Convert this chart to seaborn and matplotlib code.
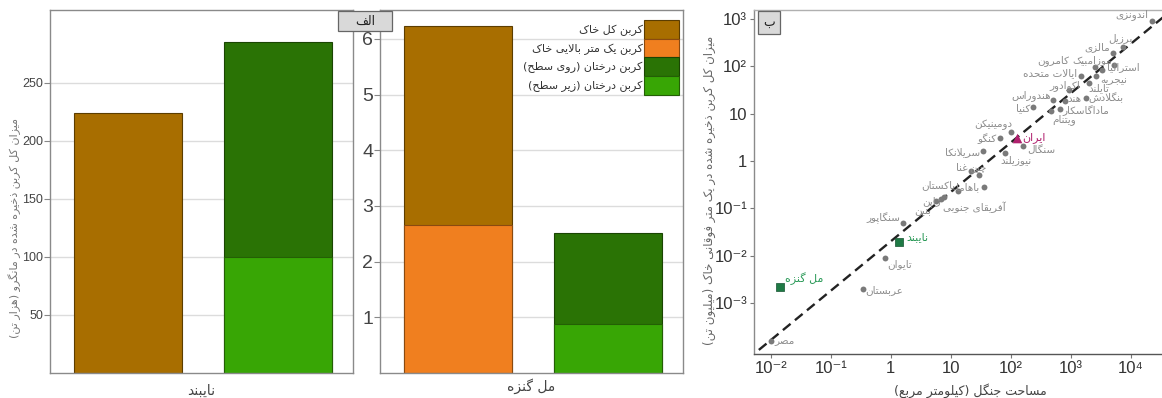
import numpy as np
import pandas as pd
import matplotlib
matplotlib.use("Agg")
import matplotlib.pyplot as plt
from matplotlib.patches import Patch, Rectangle
from matplotlib.ticker import FixedLocator, FuncFormatter, NullLocator
import seaborn as sns

sns.set_style("white")
plt.rcParams["font.family"] = ["DejaVu Sans"]
NUM_FONT = ["Liberation Sans", "DejaVu Sans"]

# ---------------------------------------------------------------------------
# Minimal Persian shaping: contextual presentation forms + right-to-left order
# ---------------------------------------------------------------------------
FORMS = {
    "\u0621": ("\uFE80",),
    "\u0622": ("\uFE81", "\uFE82"),
    "\u0623": ("\uFE83", "\uFE84"),
    "\u0624": ("\uFE85", "\uFE86"),
    "\u0625": ("\uFE87", "\uFE88"),
    "\u0626": ("\uFE89", "\uFE8A", "\uFE8B", "\uFE8C"),
    "\u0627": ("\uFE8D", "\uFE8E"),
    "\u0628": ("\uFE8F", "\uFE90", "\uFE91", "\uFE92"),
    "\u0629": ("\uFE93", "\uFE94"),
    "\u062A": ("\uFE95", "\uFE96", "\uFE97", "\uFE98"),
    "\u062B": ("\uFE99", "\uFE9A", "\uFE9B", "\uFE9C"),
    "\u062C": ("\uFE9D", "\uFE9E", "\uFE9F", "\uFEA0"),
    "\u062D": ("\uFEA1", "\uFEA2", "\uFEA3", "\uFEA4"),
    "\u062E": ("\uFEA5", "\uFEA6", "\uFEA7", "\uFEA8"),
    "\u062F": ("\uFEA9", "\uFEAA"),
    "\u0630": ("\uFEAB", "\uFEAC"),
    "\u0631": ("\uFEAD", "\uFEAE"),
    "\u0632": ("\uFEAF", "\uFEB0"),
    "\u0633": ("\uFEB1", "\uFEB2", "\uFEB3", "\uFEB4"),
    "\u0634": ("\uFEB5", "\uFEB6", "\uFEB7", "\uFEB8"),
    "\u0635": ("\uFEB9", "\uFEBA", "\uFEBB", "\uFEBC"),
    "\u0636": ("\uFEBD", "\uFEBE", "\uFEBF", "\uFEC0"),
    "\u0637": ("\uFEC1", "\uFEC2", "\uFEC3", "\uFEC4"),
    "\u0638": ("\uFEC5", "\uFEC6", "\uFEC7", "\uFEC8"),
    "\u0639": ("\uFEC9", "\uFECA", "\uFECB", "\uFECC"),
    "\u063A": ("\uFECD", "\uFECE", "\uFECF", "\uFED0"),
    "\u0641": ("\uFED1", "\uFED2", "\uFED3", "\uFED4"),
    "\u0642": ("\uFED5", "\uFED6", "\uFED7", "\uFED8"),
    "\u0643": ("\uFED9", "\uFEDA", "\uFEDB", "\uFEDC"),
    "\u0644": ("\uFEDD", "\uFEDE", "\uFEDF", "\uFEE0"),
    "\u0645": ("\uFEE1", "\uFEE2", "\uFEE3", "\uFEE4"),
    "\u0646": ("\uFEE5", "\uFEE6", "\uFEE7", "\uFEE8"),
    "\u0647": ("\uFEE9", "\uFEEA", "\uFEEB", "\uFEEC"),
    "\u0648": ("\uFEED", "\uFEEE"),
    "\u0649": ("\uFEEF", "\uFEF0"),
    "\u064A": ("\uFEF1", "\uFEF2", "\uFEF3", "\uFEF4"),
    "\u067E": ("\uFB56", "\uFB57", "\uFB58", "\uFB59"),
    "\u0686": ("\uFB7A", "\uFB7B", "\uFB7C", "\uFB7D"),
    "\u0698": ("\uFB8A", "\uFB8B"),
    "\u06A9": ("\uFB8E", "\uFB8F", "\uFB90", "\uFB91"),
    "\u06AF": ("\uFB92", "\uFB93", "\uFB94", "\uFB95"),
    "\u06CC": ("\uFBFC", "\uFBFD", "\uFBFE", "\uFBFF"),
}
LAM_ALEF = {
    "\u0627": ("\uFEFB", "\uFEFC"),
    "\u0622": ("\uFEF5", "\uFEF6"),
    "\u0623": ("\uFEF7", "\uFEF8"),
    "\u0625": ("\uFEF9", "\uFEFA"),
}


def fa(text):
    units, i = [], 0
    while i < len(text):
        c = text[i]
        if c == "\u0644" and i + 1 < len(text) and text[i + 1] in LAM_ALEF:
            units.append(("LA", text[i + 1]))
            i += 2
        else:
            units.append(("C", c))
            i += 1

    def joins_next(u):
        return u[0] == "C" and u[1] in FORMS and len(FORMS[u[1]]) == 4

    def joinable(u):
        return u[0] == "LA" or u[1] in FORMS

    out = []
    for k, u in enumerate(units):
        prev_j = k > 0 and joins_next(units[k - 1]) and joinable(u)
        next_j = k + 1 < len(units) and joins_next(u) and joinable(units[k + 1])
        kind, c = u
        if kind == "LA":
            iso, fin = LAM_ALEF[c]
            out.append(fin if prev_j else iso)
        elif c in FORMS:
            f = FORMS[c]
            if len(f) == 4:
                ch = f[3] if (prev_j and next_j) else f[1] if prev_j else f[2] if next_j else f[0]
            elif len(f) == 2:
                ch = f[1] if prev_j else f[0]
            else:
                ch = f[0]
            out.append(ch)
        else:
            out.append(c)
    return "".join(out)[::-1].translate(str.maketrans("()", ")("))


# ---------------------------------------------------------------------------
# Data
# ---------------------------------------------------------------------------
# Panel A: carbon stocks of the two mangrove sites
site_names = ["نایبند", "مل گنزه"]
soil_total = [224.0, 6.23]          # total soil carbon
soil_top_meter = [np.nan, 2.66]     # carbon of the top metre of soil
trees_above = [185.0, 1.63]         # above-ground tree carbon
trees_below = [100.0, 0.88]         # below-ground tree carbon

layer_labels = [
    "کربن کل خاک",
    "کربن یک متر بالایی خاک",
    "کربن درختان (روی سطح)",
    "کربن درختان (زیر سطح)",
]

# Panel B: forest area vs. carbon in the upper metre of soil
countries = [
    "اندونزی", "برزیل", "مالزی", "موزامبیک", "کامرون", "استرالیا", "نیجریه",
    "ایالات متحده", "تایلند", "اکوادور", "هندوراس", "بنگلادش", "هند",
    "ماداگاسکار", "ویتنام", "کنیا", "دومینیکن", "کنگو", "سنگال", "سریلانکا",
    "نیوزیلند", "غنا", "چین", "باهاما", "پاکستان", "ژاپن", "بنین",
    "آفریقای جنوبی", "سنگاپور", "تایوان", "عربستان", "مصر",
]
country_area = [
    22900, 7590, 5010, 5250, 2510, 3390, 2690,
    1510, 2000, 933, 501, 1780, 794,
    661, 468, 234, 100, 67.6, 158, 33.9,
    79.4, 21.4, 30.2, 35.5, 13.2, 7.6, 5.6,
    6.8, 1.62, 0.79, 0.34, 0.0102,
]
country_carbon = [
    891, 251, 191, 105, 95.5, 83.2, 63.1,
    63.1, 44.7, 31.6, 19.5, 21.4, 18.6,
    12.6, 11.5, 13.8, 4.17, 3.02, 2.09, 1.62,
    1.48, 0.62, 0.50, 0.275, 0.234, 0.174, 0.141,
    0.158, 0.048, 0.0087, 0.00195, 0.000158,
]
iran_name = "ایران"
iran_area = [126.0]
iran_carbon = [3.09]
study_names = ["نایبند", "مل گنزه"]
study_area = [1.38, 0.0141]
study_carbon = [0.019, 0.00214]

# fitted power-law relation drawn as the dashed line (log10 space)
FIT_INTERCEPT = -1.70
FIT_SLOPE = 1.043

# ---------------------------------------------------------------------------
# Styling
# ---------------------------------------------------------------------------
C_SOIL = "#A86E00"
C_TOP = "#F07F1F"
C_ABOVE = "#2A7305"
C_BELOW = "#38A605"
EDGE = {C_SOIL: "#5c3d00", C_TOP: "#8a4a10", C_ABOVE: "#1a4503", C_BELOW: "#245f05"}

W, H = 1162, 398
fig = plt.figure(figsize=(W / 100, H / 100), dpi=100)


def box(x0, y0, x1, y1):
    return [x0 / W, 1 - y1 / H, (x1 - x0) / W, (y1 - y0) / H]


ax1 = fig.add_axes(box(50, 10, 353, 373))
ax2 = fig.add_axes(box(380, 10, 683, 373))
ax3 = fig.add_axes(box(754, 10, 1163, 354))

groups = ["soil", "trees"]
rows = []
for i, s in enumerate(site_names):
    rows.append((s, "soil", C_SOIL, soil_total[i]))
    if not np.isnan(soil_top_meter[i]):
        rows.append((s, "soil", C_TOP, soil_top_meter[i]))
    rows.append((s, "trees", C_ABOVE, trees_above[i] + trees_below[i]))
    rows.append((s, "trees", C_BELOW, trees_below[i]))
bars = pd.DataFrame(rows, columns=["site", "group", "color", "height"])

for ax, site, ylim, yticks, tick_fs, lpad in [
    (ax1, site_names[0], (0, 312.6), [50, 100, 150, 200, 250], 9, 8),
    (ax2, site_names[1], (0, 6.52), [1, 2, 3, 4, 5, 6], 14, 4),
]:
    ax.set_axisbelow(True)
    for v in yticks:
        ax.axhline(v, color="#dcdcdc", lw=1.0, zorder=0)
    sub = bars[bars["site"] == site]
    for color in [C_SOIL, C_TOP, C_ABOVE, C_BELOW]:
        part = sub[sub["color"] == color]
        if part.empty:
            continue
        sns.barplot(data=part, x="group", y="height", order=groups, color=color,
                    width=0.72, saturation=1, edgecolor=EDGE[color], linewidth=0.8,
                    ax=ax, errorbar=None)
    ax.set_xlim(-0.52, 1.5)
    ax.set_ylim(*ylim)
    ax.set_yticks(yticks)
    ax.set_xticks([])
    ax.tick_params(axis="y", labelsize=tick_fs, labelcolor="#444444", colors="#888888",
                   length=4, width=0.8, direction="out", left=True, pad=1)
    plt.setp(ax.get_yticklabels(), family=NUM_FONT)
    ax.set_xlabel(fa(site), fontsize=10, color="#444444", labelpad=lpad)
    ax.set_ylabel("")
    for sp in ax.spines.values():
        sp.set_color("#8a8a8a")
        sp.set_linewidth(1.0)

ax1.set_ylabel(fa("میزان کل کربن ذخیره شده در مانگرو (هزار تن)"), fontsize=8,
               color="#777777", labelpad=2)
ax1.yaxis.set_label_coords(-0.095, 0.40)

handles = [Patch(facecolor=c, edgecolor=EDGE[c], linewidth=0.8)
           for c in [C_SOIL, C_TOP, C_ABOVE, C_BELOW]]
ax2.legend(handles, [fa(t) for t in layer_labels], loc="upper right",
           bbox_to_anchor=(0.988, 0.972), markerfirst=False, frameon=False,
           fontsize=8, labelspacing=0.0, handlelength=3.2, handleheight=2.2,
           handletextpad=0.1, borderpad=0, borderaxespad=0, labelcolor="#333333")

# panel tags
fig.patches.append(Rectangle((338 / W, 1 - 31 / H), 54 / W, 20 / H, transform=fig.transFigure,
                             facecolor="#d9d9d9", edgecolor="#666666", lw=0.9, zorder=10))
fig.text(365 / W, 1 - 21 / H, fa("الف"), ha="center", va="center", fontsize=9,
         color="#222222", zorder=11)

# ---------------------------------------------------------------------------
# Panel B scatter
# ---------------------------------------------------------------------------
ax3.set_xscale("log")
ax3.set_yscale("log")
ax3.set_xlim(10 ** -2.28, 10 ** 4.54)
ax3.set_ylim(10 ** -4.08, 10 ** 3.19)

xs = np.logspace(-2.4, 4.7, 50)
ax3.plot(xs, 10 ** FIT_INTERCEPT * xs ** FIT_SLOPE, color="#222222", lw=1.7,
         dashes=(4.2, 2.4), zorder=1)

sns.scatterplot(x=country_area, y=country_carbon, ax=ax3, color="#7a7a7a",
                s=18, linewidth=0, zorder=3)
sns.scatterplot(x=iran_area, y=iran_carbon, ax=ax3, color="#b0206e", marker="^",
                s=48, linewidth=0, zorder=4)
sns.scatterplot(x=study_area, y=study_carbon, ax=ax3, color="#1f7a45", marker="s",
                s=30, edgecolor="#145230", linewidth=0.5, zorder=4)

# label offsets (points) and alignment for each country label
label_pos = {
    "اندونزی": (-3, 5, "right"), "برزیل": (-2, 7, "center"), "مالزی": (-2, 4, "right"),
    "موزامبیک": (-1, 4, "right"), "کامرون": (-18, 5, "right"), "استرالیا": (3, 2, "left"),
    "نیجریه": (3, -3, "left"), "ایالات متحده": (-3, 2, "right"), "تایلند": (0, -4, "left"),
    "اکوادور": (-3, 3, "center"), "هندوراس": (-1, 3, "right"), "بنگلادش": (2, 0, "left"),
    "هند": (2, 1, "left"), "ماداگاسکار": (2, -1, "left"), "ویتنام": (1, -6, "left"),
    "کنیا": (-2, -1, "right"), "دومینیکن": (1, 5, "right"), "کنگو": (-3, 0, "right"),
    "سنگال": (3, -3, "left"), "سریلانکا": (-2, -1, "right"), "نیوزیلند": (-3, -5, "left"),
    "غنا": (-2, 2, "right"), "چین": (-1, 5, "center"), "باهاما": (-3, 0, "right"),
    "پاکستان": (-2, 4, "right"), "ژاپن": (-2, -3, "right"), "بنین": (-3, -7, "right"),
    "آفریقای جنوبی": (2, -6, "left"), "سنگاپور": (-2, 4, "right"), "تایوان": (2, -4, "left"),
    "عربستان": (2, -1, "left"), "مصر": (2, 0, "left"),
}
for name, xa, ya in zip(countries, country_area, country_carbon):
    dx, dy, ha = label_pos[name]
    ax3.annotate(fa(name), (xa, ya), xytext=(dx, dy), textcoords="offset points",
                 ha=ha, va="center", fontsize=7.5, color="#8c8c8c", zorder=5)
ax3.annotate(fa(iran_name), (iran_area[0], iran_carbon[0]), xytext=(4, 0),
             textcoords="offset points", ha="left", va="center", fontsize=8,
             color="#b0206e", zorder=5)
for name, xa, ya, off in zip(study_names, study_area, study_carbon, [(5, 4), (4, 6)]):
    ax3.annotate(fa(name), (xa, ya), xytext=off, textcoords="offset points",
                 ha="left", va="center", fontsize=8, color="#2b9a58", zorder=5)

SUPERSCRIPT = str.maketrans("-0123456789", "⁻⁰¹²³⁴⁵⁶⁷⁸⁹")


def log_fmt(v, _):
    e = int(round(np.log10(v)))
    if e == 0:
        return "1"
    if e == 1:
        return "10"
    return "10" + str(e).translate(SUPERSCRIPT)


ax3.xaxis.set_major_locator(FixedLocator([10.0 ** e for e in range(-2, 5)]))
ax3.yaxis.set_major_locator(FixedLocator([10.0 ** e for e in range(-3, 4)]))
ax3.xaxis.set_minor_locator(NullLocator())
ax3.yaxis.set_minor_locator(NullLocator())
ax3.xaxis.set_major_formatter(FuncFormatter(log_fmt))
ax3.yaxis.set_major_formatter(FuncFormatter(log_fmt))
ax3.tick_params(axis="both", labelsize=12, labelcolor="#333333", colors="#777777",
                length=3, width=0.8, direction="out", left=True, bottom=True, pad=2)
plt.setp(ax3.get_xticklabels() + ax3.get_yticklabels(), family=NUM_FONT)
ax3.set_xlabel(fa("مساحت جنگل (کیلومتر مربع)"), fontsize=9, color="#444444", labelpad=1)
ax3.xaxis.set_label_coords(0.53, -0.085)
ax3.set_ylabel(fa("میزان کل کربن ذخیره شده در یک متر فوقانی خاک (میلیون تن)"),
               fontsize=8.5, color="#666666", labelpad=4)
ax3.yaxis.set_label_coords(-0.092, 0.477)
ax3.spines["right"].set_visible(False)
ax3.spines["top"].set_color("#b0b0b0")
ax3.spines["left"].set_color("#8a8a8a")
ax3.spines["bottom"].set_color("#555555")
for sp in ax3.spines.values():
    sp.set_linewidth(1.0)

fig.text(769 / W, 1 - 22 / H, fa("ب"), ha="center", va="center", fontsize=9,
         color="#222222",
         bbox=dict(boxstyle="square,pad=0.4", facecolor="#d9d9d9", edgecolor="#666666", lw=0.9))

fig.savefig("out.png", dpi=100)
